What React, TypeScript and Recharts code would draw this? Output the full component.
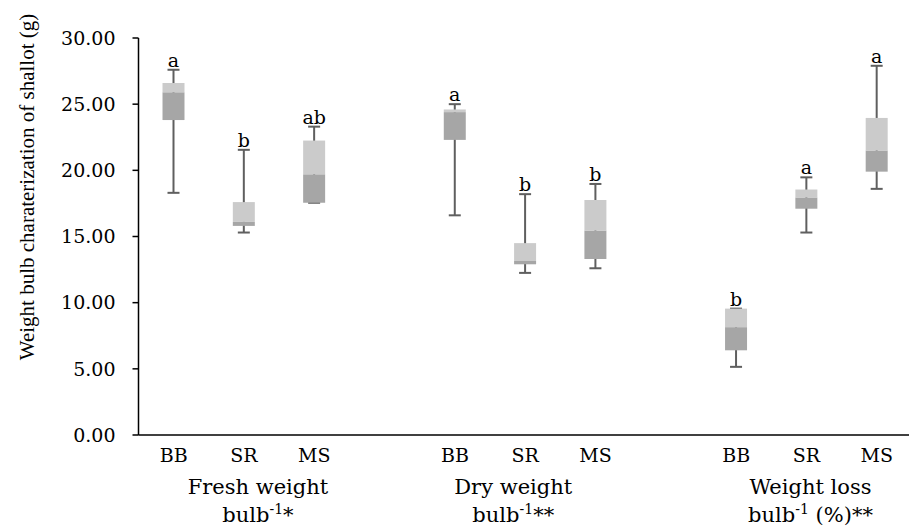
import React from "react";
import { ComposedChart, Bar, XAxis, YAxis, LabelList } from "recharts";

// one slot per box, empty slots separate the three groups
const categories = ["BB", "SR", "MS", "", "BB", "SR", "MS", "", "BB", "SR", "MS"];
const minValues = [18.3, 15.3, 17.55, null, 16.6, 12.25, 12.6, null, 5.15, 15.3, 18.6];
const q1Values = [23.8, 15.8, 17.55, null, 22.3, 12.9, 13.3, null, 6.4, 17.1, 19.9];
const medianValues = [25.9, 16.1, 19.7, null, 24.4, 13.15, 15.45, null, 8.15, 17.95, 21.5];
const q3Values = [26.6, 17.6, 22.25, null, 24.6, 14.5, 17.76, null, 9.55, 18.55, 23.96];
const maxValues = [27.6, 21.55, 23.3, null, 25.0, 18.2, 18.97, null, 9.55, 19.47, 27.9];
const letters = ["a", "b", "ab", "", "a", "b", "b", "", "b", "a", "a"];
const yTicks = [0, 5, 10, 15, 20, 25, 30];

// group captions sit under the middle slot, nudged a little like the original
const groups = [
  { slot: 1, title: "Fresh weight", tail: "*", dx: 14 },
  { slot: 5, title: "Dry weight", tail: "**", dx: -12 },
  { slot: 9, title: "Weight loss", tail: " (%)**", dx: 4 },
];

const FONT = "'DejaVu Serif', serif";
const TITLE_FONT = "'Liberation Serif', serif";
const LIGHT = "#cbcbcb";
const DARK = "#a6a6a6";
const WHISKER = "#5f5f5f";

const data = categories.map((cat, i) => ({
  cat,
  whisker: minValues[i] == null ? null : [minValues[i], maxValues[i]],
  lower: q1Values[i] == null ? null : [q1Values[i], medianValues[i]],
  upper: medianValues[i] == null ? null : [medianValues[i], q3Values[i]],
  letter: letters[i],
}));

function Whisker(props: any) {
  const { x, y, width, height } = props;
  if (x == null || y == null || height == null || isNaN(y)) return null;
  const top = Math.min(y, y + height);
  const bottom = Math.max(y, y + height);
  const cx = x + width / 2;
  const cap = 6;
  return (
    <g stroke={WHISKER} strokeWidth={2}>
      <line x1={cx} x2={cx} y1={top} y2={bottom} />
      <line x1={cx - cap} x2={cx + cap} y1={top} y2={top} />
      <line x1={cx - cap} x2={cx + cap} y1={bottom} y2={bottom} />
    </g>
  );
}

function LetterLabel(props: any) {
  const { x, y, width, height, value } = props;
  if (!value) return null;
  const top = Math.min(y, y + height);
  return (
    <text x={x + width / 2} y={top - 3} textAnchor="middle" fontFamily={FONT} fontSize={19} fill="#000">
      {value}
    </text>
  );
}

function CategoryTick(props: any) {
  const { x, y, payload } = props;
  const i = payload.index;
  const group = groups.find((g) => g.slot === i);
  return (
    <g fontFamily={FONT} fill="#000">
      <text x={x} y={y + 27} textAnchor="middle" fontSize={19}>
        {categories[i]}
      </text>
      {group && (
        <>
          <text x={x + group.dx} y={y + 59} textAnchor="middle" fontSize={21}>
            {group.title}
          </text>
          <text x={x + group.dx} y={y + 87} textAnchor="middle" fontSize={21}>
            bulb
            <tspan dy={-8} fontSize={14}>-1</tspan>
            <tspan dy={8}>{group.tail}</tspan>
          </text>
        </>
      )}
    </g>
  );
}

function YTitle(props: any) {
  const vb = props.viewBox || {};
  const cx = (vb.x || 0) + 27;
  const cy = (vb.y || 0) + 149;
  return (
    <text
      x={cx}
      y={cy}
      transform={`rotate(-90, ${cx}, ${cy})`}
      textAnchor="middle"
      dominantBaseline="central"
      fontFamily={TITLE_FONT}
      fontSize={21}
      fill="#000"
    >
      Weight bulb charaterization of shallot (g)
    </text>
  );
}

export default function App() {
  return (
    <div style={{ position: "absolute", left: 0, top: 0, background: "#fff" }}>
      <ComposedChart
        width={909}
        height={529}
        data={data}
        margin={{ top: 38, right: -3, bottom: 0, left: 0 }}
        barSize={22}
        barGap={-22}
      >
        <XAxis
          dataKey="cat"
          height={94}
          interval={0}
          tickLine={false}
          tickSize={0}
          tickMargin={0}
          axisLine={{ stroke: "#000", strokeWidth: 1.5 }}
          tick={<CategoryTick />}
        />
        <YAxis
          width={138.5}
          domain={[0, 30]}
          ticks={yTicks}
          interval={0}
          tickFormatter={(v: number) => v.toFixed(2)}
          tickSize={6}
          tickMargin={17}
          axisLine={{ stroke: "#000", strokeWidth: 1.5 }}
          tickLine={{ stroke: "#000", strokeWidth: 1.5 }}
          tick={{ fill: "#000", fontFamily: FONT, fontSize: 19 }}
          label={<YTitle />}
        />
        <Bar dataKey="whisker" shape={<Whisker />} isAnimationActive={false}>
          <LabelList dataKey="letter" content={<LetterLabel />} />
        </Bar>
        <Bar dataKey="lower" fill={DARK} isAnimationActive={false} />
        <Bar dataKey="upper" fill={LIGHT} isAnimationActive={false} />
      </ComposedChart>
    </div>
  );
}
